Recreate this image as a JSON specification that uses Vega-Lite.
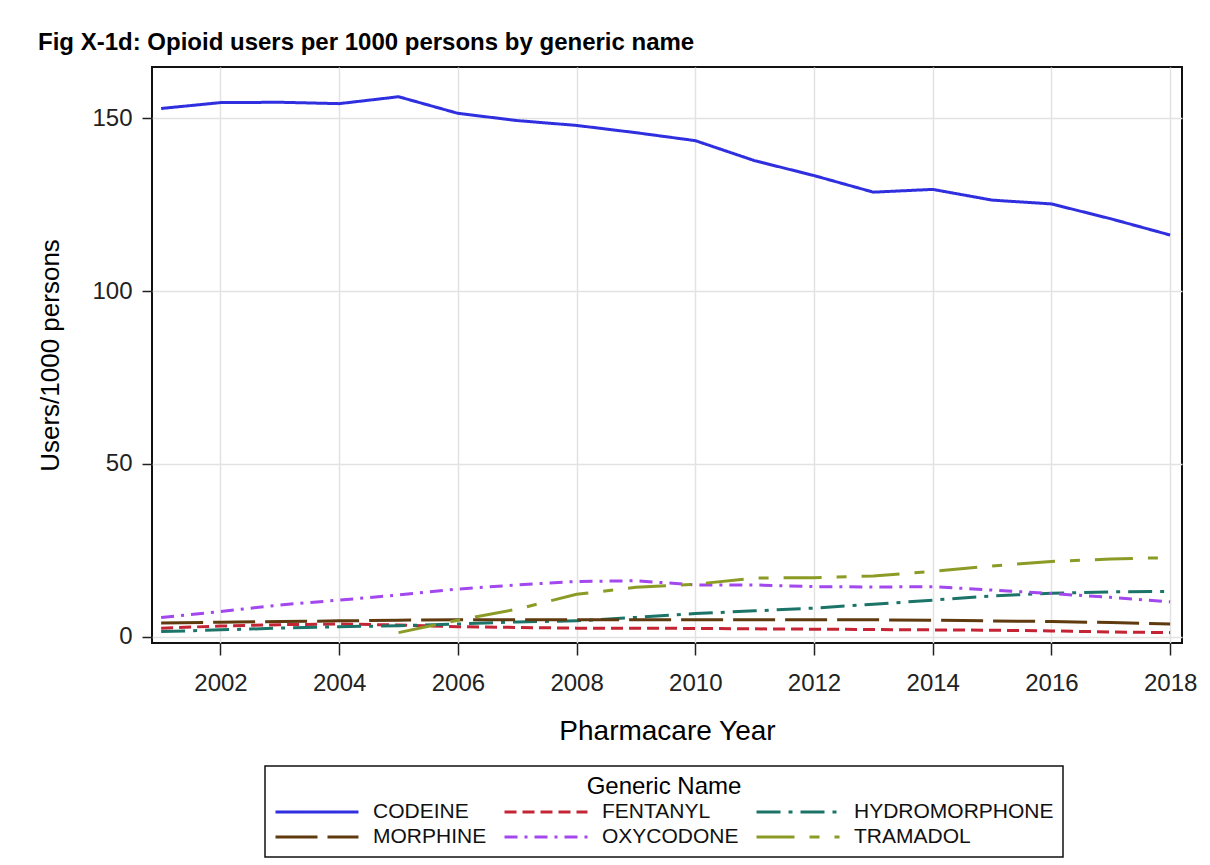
{
  "$schema": "https://vega.github.io/schema/vega-lite/v6.json",
  "width": 1030,
  "height": 576,
  "autosize": {"type": "none"},
  "padding": {"left": 152, "top": 67, "right": 28, "bottom": 222},
  "background": "white",
  "title": {
    "text": "Fig X-1d: Opioid users per 1000 persons by generic name",
    "anchor": "start",
    "frame": "group",
    "dx": -114,
    "offset": 12,
    "font": "Liberation Sans",
    "fontSize": 24,
    "fontWeight": "bold",
    "color": "#000000"
  },
  "config": {
    "font": "Liberation Sans",
    "view": {"stroke": "#111111", "strokeWidth": 2}
  },
  "data": {
    "values": [
      {"year": 2001, "drug": "CODEINE", "v": 152.8},
      {"year": 2002, "drug": "CODEINE", "v": 154.5},
      {"year": 2003, "drug": "CODEINE", "v": 154.6},
      {"year": 2004, "drug": "CODEINE", "v": 154.2},
      {"year": 2005, "drug": "CODEINE", "v": 156.2},
      {"year": 2006, "drug": "CODEINE", "v": 151.4},
      {"year": 2007, "drug": "CODEINE", "v": 149.3},
      {"year": 2008, "drug": "CODEINE", "v": 147.9},
      {"year": 2009, "drug": "CODEINE", "v": 145.8},
      {"year": 2010, "drug": "CODEINE", "v": 143.5},
      {"year": 2011, "drug": "CODEINE", "v": 137.7},
      {"year": 2012, "drug": "CODEINE", "v": 133.4},
      {"year": 2013, "drug": "CODEINE", "v": 128.6},
      {"year": 2014, "drug": "CODEINE", "v": 129.4},
      {"year": 2015, "drug": "CODEINE", "v": 126.3},
      {"year": 2016, "drug": "CODEINE", "v": 125.2},
      {"year": 2017, "drug": "CODEINE", "v": 120.9},
      {"year": 2018, "drug": "CODEINE", "v": 116.2},
      {"year": 2001, "drug": "FENTANYL", "v": 2.5},
      {"year": 2002, "drug": "FENTANYL", "v": 3.1},
      {"year": 2003, "drug": "FENTANYL", "v": 3.5},
      {"year": 2004, "drug": "FENTANYL", "v": 3.7},
      {"year": 2005, "drug": "FENTANYL", "v": 3.4},
      {"year": 2006, "drug": "FENTANYL", "v": 2.9},
      {"year": 2007, "drug": "FENTANYL", "v": 2.7},
      {"year": 2008, "drug": "FENTANYL", "v": 2.5},
      {"year": 2009, "drug": "FENTANYL", "v": 2.5},
      {"year": 2010, "drug": "FENTANYL", "v": 2.4},
      {"year": 2011, "drug": "FENTANYL", "v": 2.3},
      {"year": 2012, "drug": "FENTANYL", "v": 2.2},
      {"year": 2013, "drug": "FENTANYL", "v": 2.1},
      {"year": 2014, "drug": "FENTANYL", "v": 2.0},
      {"year": 2015, "drug": "FENTANYL", "v": 1.9},
      {"year": 2016, "drug": "FENTANYL", "v": 1.7},
      {"year": 2017, "drug": "FENTANYL", "v": 1.4},
      {"year": 2018, "drug": "FENTANYL", "v": 1.2},
      {"year": 2001, "drug": "HYDROMORPHONE", "v": 1.5},
      {"year": 2002, "drug": "HYDROMORPHONE", "v": 2.0},
      {"year": 2003, "drug": "HYDROMORPHONE", "v": 2.5},
      {"year": 2004, "drug": "HYDROMORPHONE", "v": 2.9},
      {"year": 2005, "drug": "HYDROMORPHONE", "v": 3.2},
      {"year": 2006, "drug": "HYDROMORPHONE", "v": 3.7},
      {"year": 2007, "drug": "HYDROMORPHONE", "v": 4.3},
      {"year": 2008, "drug": "HYDROMORPHONE", "v": 4.6},
      {"year": 2009, "drug": "HYDROMORPHONE", "v": 5.6},
      {"year": 2010, "drug": "HYDROMORPHONE", "v": 6.7},
      {"year": 2011, "drug": "HYDROMORPHONE", "v": 7.5},
      {"year": 2012, "drug": "HYDROMORPHONE", "v": 8.3},
      {"year": 2013, "drug": "HYDROMORPHONE", "v": 9.4},
      {"year": 2014, "drug": "HYDROMORPHONE", "v": 10.6},
      {"year": 2015, "drug": "HYDROMORPHONE", "v": 11.8},
      {"year": 2016, "drug": "HYDROMORPHONE", "v": 12.6},
      {"year": 2017, "drug": "HYDROMORPHONE", "v": 13.0},
      {"year": 2018, "drug": "HYDROMORPHONE", "v": 13.1},
      {"year": 2001, "drug": "MORPHINE", "v": 4.0},
      {"year": 2002, "drug": "MORPHINE", "v": 4.2},
      {"year": 2003, "drug": "MORPHINE", "v": 4.4},
      {"year": 2004, "drug": "MORPHINE", "v": 4.6},
      {"year": 2005, "drug": "MORPHINE", "v": 4.8},
      {"year": 2006, "drug": "MORPHINE", "v": 4.9},
      {"year": 2007, "drug": "MORPHINE", "v": 4.9},
      {"year": 2008, "drug": "MORPHINE", "v": 4.9},
      {"year": 2009, "drug": "MORPHINE", "v": 4.9},
      {"year": 2010, "drug": "MORPHINE", "v": 4.9},
      {"year": 2011, "drug": "MORPHINE", "v": 4.9},
      {"year": 2012, "drug": "MORPHINE", "v": 4.9},
      {"year": 2013, "drug": "MORPHINE", "v": 4.9},
      {"year": 2014, "drug": "MORPHINE", "v": 4.8},
      {"year": 2015, "drug": "MORPHINE", "v": 4.6},
      {"year": 2016, "drug": "MORPHINE", "v": 4.4},
      {"year": 2017, "drug": "MORPHINE", "v": 4.1},
      {"year": 2018, "drug": "MORPHINE", "v": 3.7},
      {"year": 2001, "drug": "OXYCODONE", "v": 5.6},
      {"year": 2002, "drug": "OXYCODONE", "v": 7.3},
      {"year": 2003, "drug": "OXYCODONE", "v": 9.2},
      {"year": 2004, "drug": "OXYCODONE", "v": 10.6},
      {"year": 2005, "drug": "OXYCODONE", "v": 12.1},
      {"year": 2006, "drug": "OXYCODONE", "v": 13.8},
      {"year": 2007, "drug": "OXYCODONE", "v": 15.0},
      {"year": 2008, "drug": "OXYCODONE", "v": 16.0},
      {"year": 2009, "drug": "OXYCODONE", "v": 16.2},
      {"year": 2010, "drug": "OXYCODONE", "v": 15.0},
      {"year": 2011, "drug": "OXYCODONE", "v": 15.0},
      {"year": 2012, "drug": "OXYCODONE", "v": 14.5},
      {"year": 2013, "drug": "OXYCODONE", "v": 14.4},
      {"year": 2014, "drug": "OXYCODONE", "v": 14.5},
      {"year": 2015, "drug": "OXYCODONE", "v": 13.5},
      {"year": 2016, "drug": "OXYCODONE", "v": 12.5},
      {"year": 2017, "drug": "OXYCODONE", "v": 11.4},
      {"year": 2018, "drug": "OXYCODONE", "v": 10.1},
      {"year": 2005, "drug": "TRAMADOL", "v": 1.2},
      {"year": 2006, "drug": "TRAMADOL", "v": 4.8},
      {"year": 2007, "drug": "TRAMADOL", "v": 8.0},
      {"year": 2008, "drug": "TRAMADOL", "v": 12.3},
      {"year": 2009, "drug": "TRAMADOL", "v": 14.3},
      {"year": 2010, "drug": "TRAMADOL", "v": 15.2},
      {"year": 2011, "drug": "TRAMADOL", "v": 17.0},
      {"year": 2012, "drug": "TRAMADOL", "v": 17.1},
      {"year": 2013, "drug": "TRAMADOL", "v": 17.6},
      {"year": 2014, "drug": "TRAMADOL", "v": 18.9},
      {"year": 2015, "drug": "TRAMADOL", "v": 20.5},
      {"year": 2016, "drug": "TRAMADOL", "v": 21.8},
      {"year": 2017, "drug": "TRAMADOL", "v": 22.5},
      {"year": 2018, "drug": "TRAMADOL", "v": 22.9}
    ]
  },
  "mark": {"type": "line", "strokeWidth": 3, "clip": true},
  "encoding": {
    "x": {
      "field": "year",
      "type": "quantitative",
      "scale": {"domain": [2000.846, 2018.2], "nice": false, "zero": false},
      "axis": {
        "title": "Pharmacare Year",
        "values": [2002, 2004, 2006, 2008, 2010, 2012, 2014, 2016, 2018],
        "format": "d",
        "grid": true,
        "gridColor": "#e2e2e2",
        "gridWidth": 1.5,
        "domain": false,
        "tickColor": "#222222",
        "tickSize": 12,
        "tickWidth": 1.5,
        "labelFontSize": 24,
        "labelColor": "#222222",
        "labelPadding": 16,
        "titleFontSize": 28,
        "titleFontWeight": "normal",
        "titleColor": "#000000",
        "titlePadding": 22
      }
    },
    "y": {
      "field": "v",
      "type": "quantitative",
      "scale": {"domain": [-1.8, 164.8], "nice": false, "zero": false},
      "axis": {
        "title": "Users/1000 persons",
        "values": [0, 50, 100, 150],
        "grid": true,
        "gridColor": "#e2e2e2",
        "gridWidth": 1.5,
        "domain": false,
        "tickColor": "#222222",
        "tickSize": 10,
        "tickWidth": 1.5,
        "labelFontSize": 24,
        "labelColor": "#222222",
        "labelPadding": 10,
        "titleFontSize": 26,
        "titleFontWeight": "normal",
        "titleColor": "#000000",
        "titlePadding": 28
      }
    },
    "color": {
      "field": "drug",
      "type": "nominal",
      "scale": {
        "domain": ["CODEINE", "FENTANYL", "HYDROMORPHONE", "MORPHINE", "OXYCODONE", "TRAMADOL"],
        "range": ["#2F2FE0", "#C42434", "#1C7468", "#5E3A0E", "#A347EE", "#8C9B26"]
      },
      "legend": {
        "title": "Generic Name",
        "orient": "none",
        "legendX": 113,
        "legendY": 699,
        "direction": "horizontal",
        "columns": 3,
        "columnPadding": 16,
        "rowPadding": 3,
        "padding": 9,
        "strokeColor": "#111111",
        "symbolType": "stroke",
        "symbolSize": 6889,
        "symbolStrokeWidth": 3,
        "clipHeight": 22,
        "labelFontSize": 21,
        "labelColor": "#111111",
        "labelOffset": 13,
        "labelLimit": 400,
        "titleFontSize": 24,
        "titleFontWeight": "normal",
        "titleColor": "#000000",
        "titleAnchor": "middle",
        "titlePadding": 2,
        "encode": {"legend": {"update": {"strokeWidth": {"value": 1.5}}}}
      }
    },
    "strokeDash": {
      "field": "drug",
      "type": "nominal",
      "scale": {
        "domain": ["CODEINE", "FENTANYL", "HYDROMORPHONE", "MORPHINE", "OXYCODONE", "TRAMADOL"],
        "range": [[1, 0], [12, 6], [24, 8, 4, 8], [42, 10], [13, 7, 3, 7], [38, 15, 10, 15]]
      },
      "legend": null
    }
  }
}
